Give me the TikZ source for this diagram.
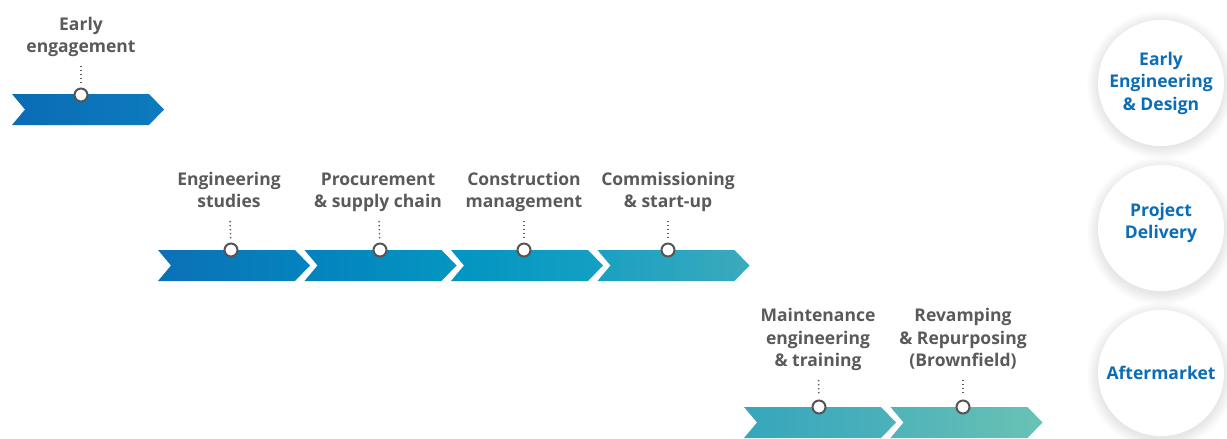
\documentclass[tikz,border=0pt]{standalone}
\usepackage{fontspec}
\setmainfont{Open Sans}
\definecolor{txtgray}{HTML}{5A5A5A}
\definecolor{ringgray}{HTML}{555555}
\definecolor{hubblue}{HTML}{0B6DB7}
\newcommand{\chevron}[4]{\definecolor{chevL}{HTML}{#3}\definecolor{chevR}{HTML}{#4}%
  \shade [left color=chevL, right color=chevR] (#1,#2) -- ++(137,0) -- ++(15,15.5) -- ++(-15,15.5) -- ++(-137,0) -- ++(13,-15.5) -- cycle;}
\tikzset{
  phase/.style={align=center, anchor=south, inner sep=0pt, text depth=0pt, text=txtgray,
    font=\bfseries\fontsize{17.5}{22.5}\selectfont},
  marker/.style={circle, draw=ringgray, line width=2pt, fill=white, minimum size=13pt, inner sep=0pt},
  dotline/.style={draw=txtgray, line width=1.4pt, dash pattern=on 1.4pt off 2.6pt, shorten <=13pt, shorten >=4pt},
  hub/.style={circle, fill=white, minimum size=126pt, inner sep=0pt, align=center, text=hubblue,
    font=\bfseries\fontsize{17.5}{22.5}\selectfont},
  hubtext/.style={align=center, text=hubblue, font=\bfseries\fontsize{17.5}{22.5}\selectfont}
}
\begin{document}
\begin{tikzpicture}[x=1pt,y=-1pt]
\useasboundingbox (0,0) rectangle (1227,439);
% arrows
\chevron{12}{94}{0A6CB5}{0D7BBE}
\chevron{158}{250}{0C70B6}{0484BE}
\chevron{304.5}{250}{0382BD}{0596C2}
\chevron{451}{250}{0195C2}{15A0C2}
\chevron{597.5}{250}{1AA0C1}{3CAABD}
\chevron{744}{407}{36A6BC}{4CB1BA}
\chevron{890.5}{407}{4FB3B9}{69C2B4}
% stages
\node [marker] (m1) at (81,95) {};
\node [marker] (m2) at (231,250) {};
\node [marker] (m3) at (380,250) {};
\node [marker] (m4) at (524,250) {};
\node [marker] (m5) at (668,250) {};
\node [marker] (m6) at (819,407) {};
\node [marker] (m7) at (963,407) {};
\node [phase] (t1) at (81,53) {Early\\engagement};
\node [phase] (t2) at (229,208) {Engineering\\studies};
\node [phase] (t3) at (378,208) {Procurement\\\& supply chain};
\node [phase] (t4) at (524,208) {Construction\\management};
\node [phase] (t5) at (668,208) {Commissioning\\\& start-up};
\node [phase] (t6) at (818,367) {Maintenance\\engineering\\\& training};
\node [phase] (t7) at (963,367) {Revamping\\\& Repurposing\\(Brownfield)};
\foreach \i in {1,...,7}
  \draw [dotline] (t\i) -- (m\i);
% hubs
\foreach \y in {82,228,373}
  \foreach \r in {63,64,...,74}
    \fill [black, opacity=0.008] (1161,\y+3) circle (\r);
\node [hub] (h1) at (1161,83) {Early\\Engineering\\\& Design};
\node [hub] (h2) at (1161,228) {};
\node [hubtext] (h2t) at (1161,223) {Project\\Delivery};
\node [hub] (h3) at (1161,373) {Aftermarket};
\end{tikzpicture}
\end{document}
